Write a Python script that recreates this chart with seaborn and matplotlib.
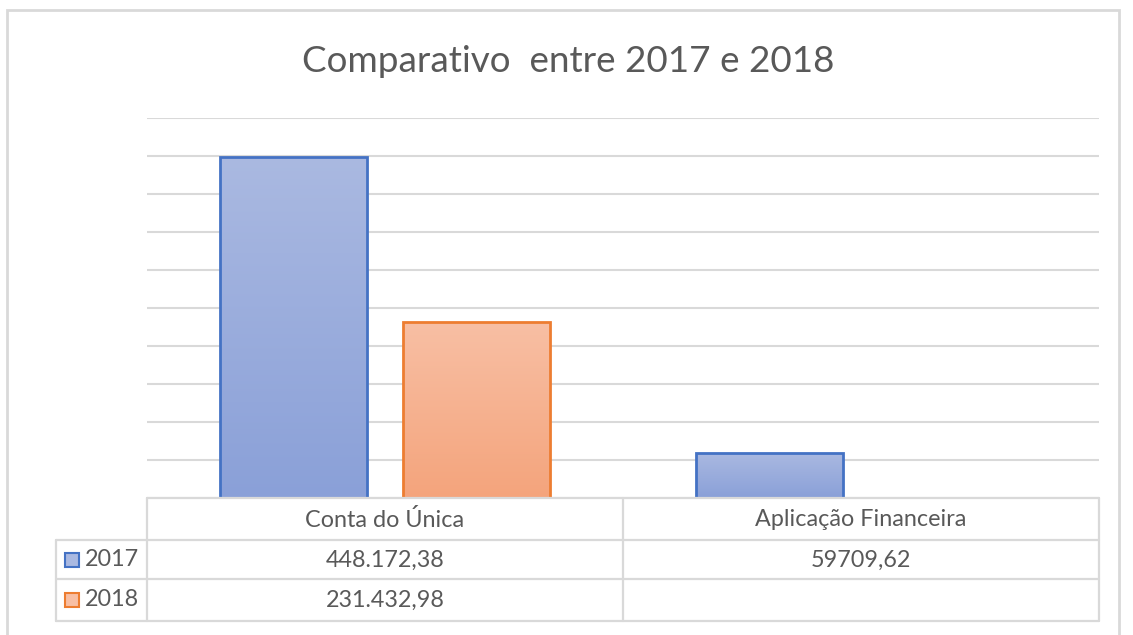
import numpy as np
import pandas as pd
import seaborn as sns
import matplotlib.pyplot as plt
from matplotlib.lines import Line2D
from matplotlib.patches import Rectangle
from matplotlib.colors import LinearSegmentedColormap

# dados do gráfico
categorias = ["Conta do Única", "Aplicação Financeira"]
anos = ["2017", "2018"]
valores_2017 = [448172.38, 59709.62]
valores_2018 = [231432.98, np.nan]
rotulos_2017 = ["448.172,38", "59709,62"]
rotulos_2018 = ["231.432,98", ""]

titulo = "Comparativo  entre 2017 e 2018"

cor_borda = {"2017": "#4472C4", "2018": "#ED7D31"}
cor_topo = {"2017": "#aab9e1", "2018": "#f8bfa4"}
cor_base = {"2017": "#8aa0d8", "2018": "#f4a47c"}
cinza_texto = "#595959"
cinza_linha = "#d9d9d9"

df = pd.DataFrame({
    "categoria": categorias * 2,
    "ano": [anos[0]] * 2 + [anos[1]] * 2,
    "valor": valores_2017 + valores_2018,
})

sns.set_theme(style="white")
plt.rcParams["font.family"] = ["Lato", "DejaVu Sans"]

W, H = 1133, 635
fig = plt.figure(figsize=(W / 100, H / 100), dpi=100)

def fx(x):
    return x / W

def fy(y):
    return 1 - y / H

# área do gráfico
ax = fig.add_axes([fx(147), fy(498), fx(1099) - fx(147), fy(118) - fy(498)])
sns.barplot(data=df, x="categoria", y="valor", hue="ano", hue_order=anos,
            order=categorias, width=0.77, gap=0.2, errorbar=None,
            legend=False, ax=ax, linewidth=2)

ax.set_ylim(0, 500000)
ax.set_xlim(-0.5, len(categorias) - 0.5)
ax.set_yticks(np.arange(0, 500001, 50000))
ax.yaxis.grid(True, color=cinza_linha, linewidth=1.5)
ax.set_axisbelow(True)
ax.set_xticks([])
ax.set_yticklabels([])
ax.tick_params(left=False, bottom=False)
ax.set_xlabel("")
ax.set_ylabel("")
for s in ax.spines.values():
    s.set_visible(False)

# gradiente nas barras
grad = np.linspace(0, 1, 256).reshape(-1, 1)
for patch in list(ax.patches):
    h = patch.get_height()
    if np.isnan(h) or h == 0:
        continue
    x0 = patch.get_x()
    w = patch.get_width()
    # identificar ano pelo deslocamento da barra
    centro = x0 + w / 2
    ano = anos[0] if (centro - round(centro)) < 0 else anos[1]
    cmap = LinearSegmentedColormap.from_list("g", [cor_base[ano], cor_topo[ano]])
    img = ax.imshow(grad, extent=[x0, x0 + w, 0, h], origin="lower",
                    cmap=cmap, aspect="auto", zorder=2)
    img.set_clip_path(patch)
    patch.set_facecolor("none")
    patch.set_edgecolor(cor_borda[ano])
    patch.set_zorder(3)
ax.set_xlim(-0.5, len(categorias) - 0.5)
ax.set_ylim(0, 500000)

# título
fig.text(fx(568), fy(61), titulo, ha="center", va="center",
         fontsize=26.6, color=cinza_texto)

# moldura externa
fig.patches.append(Rectangle((fx(7), fy(640)), fx(1119) - fx(7), fy(10) - fy(640),
                             transform=fig.transFigure, fill=False,
                             edgecolor=cinza_linha, linewidth=2))

# tabela de dados
def linha(x0, y0, x1, y1):
    fig.add_artist(Line2D([fx(x0), fx(x1)], [fy(y0), fy(y1)],
                          transform=fig.transFigure, color=cinza_linha, linewidth=1.6))

col_x = [147, 623, 1099]
linha(147, 498, 1099, 498)
for y in [540, 579, 621]:
    linha(56, y, 1099, y)
linha(56, 540, 56, 621)
for x in col_x:
    linha(x, 498, x, 621)

fs = 16.8
for i, cat in enumerate(categorias):
    cx = (col_x[i] + col_x[i + 1]) / 2
    fig.text(fx(cx), fy(520), cat, ha="center", va="center", fontsize=fs, color=cinza_texto)
    fig.text(fx(cx), fy(560), rotulos_2017[i], ha="center", va="center", fontsize=fs, color=cinza_texto)
    fig.text(fx(cx), fy(600), rotulos_2018[i], ha="center", va="center", fontsize=fs, color=cinza_texto)

for ano, yc in zip(anos, [560, 600]):
    fig.patches.append(Rectangle((fx(65), fy(yc + 7)), fx(14), fy(yc - 7) - fy(yc + 7),
                                 transform=fig.transFigure, facecolor=cor_topo[ano],
                                 edgecolor=cor_borda[ano], linewidth=1.5))
    fig.text(fx(85), fy(yc), ano, ha="left", va="center", fontsize=fs, color=cinza_texto)

fig.savefig("out.png", dpi=100)
